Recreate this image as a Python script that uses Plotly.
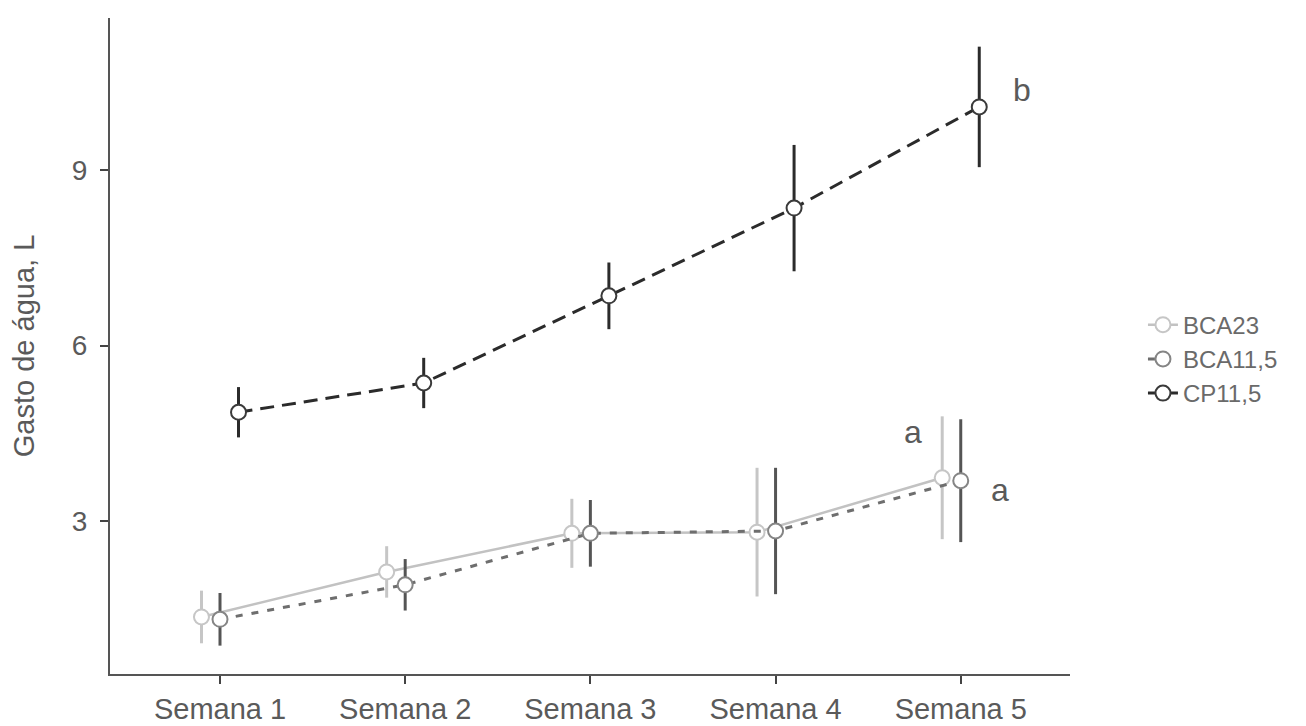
import plotly.graph_objects as go

weeks = ["Semana 1", "Semana 2", "Semana 3", "Semana 4", "Semana 5"]
series_names = ["BCA23", "BCA11,5", "CP11,5"]
bca23_mean = [1.36, 2.13, 2.79, 2.81, 3.74]
bca23_err = [0.45, 0.44, 0.59, 1.10, 1.05]
bca115_mean = [1.32, 1.91, 2.79, 2.83, 3.69]
bca115_err = [0.45, 0.44, 0.57, 1.08, 1.05]
cp115_mean = [4.86, 5.36, 6.85, 8.35, 10.08]
cp115_err = [0.43, 0.43, 0.57, 1.08, 1.03]

letters = ["a", "a", "b"]
letter_week = [4, 4, 4]
letter_y = [4.52, 3.53, 10.37]

means = [bca23_mean, bca115_mean, cp115_mean]
errs = [bca23_err, bca115_err, cp115_err]

styles = [
    dict(dodge=-0.1, line="#c2c2c2", dash="solid", mk="#c6c6c6", eb="#c6c6c6", lw=2.5),
    dict(dodge=0.0, line="#6e6e6e", dash="7px,9px", mk="#858585", eb="#555555", lw=3),
    dict(dodge=0.1, line="#2b2b2b", dash="14px,8px", mk="#3a3a3a", eb="#2b2b2b", lw=3),
]

fig = go.Figure()
for name, m, e, s in zip(series_names, means, errs, styles):
    xs = [i + s["dodge"] for i in range(len(weeks))]
    fig.add_trace(go.Scatter(
        x=xs, y=m, name=name, mode="lines+markers",
        line=dict(color=s["line"], width=s["lw"], dash=s["dash"]),
        marker=dict(size=15, color="white", line=dict(color=s["mk"], width=2)),
        error_y=dict(type="data", array=e, visible=True, width=0,
                     thickness=3, color=s["eb"]),
    ))

letter_dx = [-0.26, 0.21, 0.33]
for t, w, y, dx in zip(letters, letter_week, letter_y, letter_dx):
    fig.add_annotation(x=w + dx, y=y, text=t, showarrow=False,
                       font=dict(size=32, color="#5a5a5a"))

font_family = "Liberation Sans, Arial, sans-serif"
fig.update_layout(
    width=1298, height=718,
    margin=dict(l=102, r=236, t=10, b=52, autoexpand=False),
    paper_bgcolor="white", plot_bgcolor="white",
    font=dict(family=font_family, color="#5a5a5a"),
    showlegend=True,
    legend=dict(x=1.076, y=0.48, xanchor="left", yanchor="middle",
                font=dict(size=24, color="#6a6a6a"), itemwidth=30,
                bgcolor="rgba(0,0,0,0)"),
    xaxis=dict(
        range=[-0.594, 4.59], tickmode="array",
        tickvals=list(range(len(weeks))), ticktext=weeks,
        showgrid=False, zeroline=False, showline=True, linecolor="#555555",
        linewidth=2, ticks="outside", ticklen=8, tickwidth=2, tickcolor="#444444",
        tickfont=dict(size=29, color="#5a5a5a"), automargin=False,
    ),
    yaxis=dict(
        range=[0.385, 11.6], tickvals=[3, 6, 9],
        showgrid=False, zeroline=False, showline=True, linecolor="#555555",
        linewidth=2, ticks="outside", ticklen=8, tickwidth=2, tickcolor="#444444",
        tickfont=dict(size=28, color="#5a5a5a"), automargin=False,
        ticklabelstandoff=7,
        title=dict(text="Gasto de água, L", font=dict(size=29, color="#5a5a5a"),
                   standoff=30),
    ),
)

fig.write_html("out.html")
